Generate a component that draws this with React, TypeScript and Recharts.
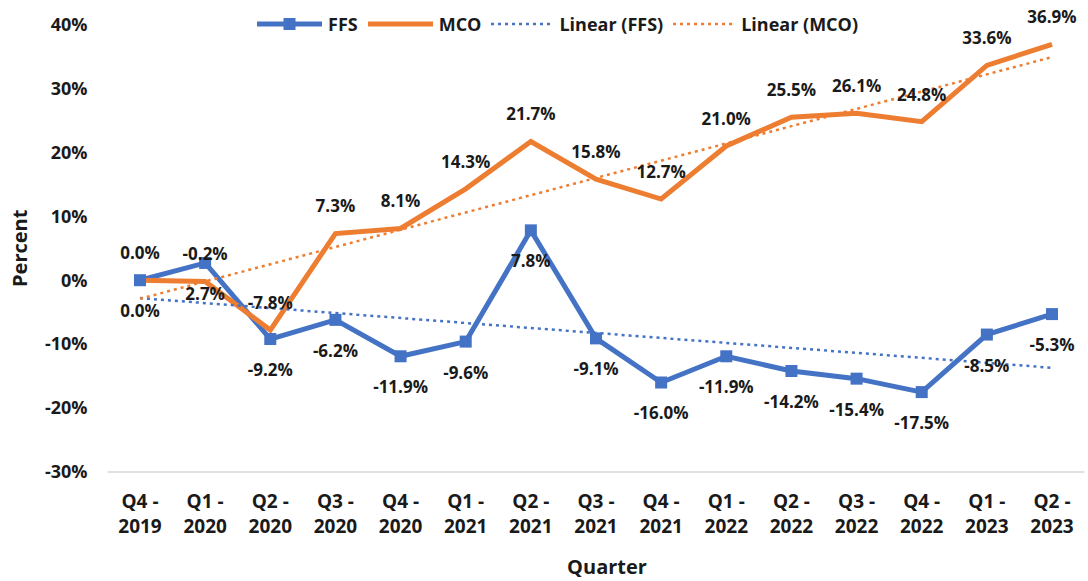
import React from "react";
import { LineChart, Line, XAxis, YAxis, LabelList, Label } from "recharts";

const quarters = [
  "Q4 - 2019", "Q1 - 2020", "Q2 - 2020", "Q3 - 2020", "Q4 - 2020",
  "Q1 - 2021", "Q2 - 2021", "Q3 - 2021", "Q4 - 2021", "Q1 - 2022",
  "Q2 - 2022", "Q3 - 2022", "Q4 - 2022", "Q1 - 2023", "Q2 - 2023",
];
const ffs = [0.0, 2.7, -9.2, -6.2, -11.9, -9.6, 7.8, -9.1, -16.0, -11.9, -14.2, -15.4, -17.5, -8.5, -5.3];
const mco = [0.0, -0.2, -7.8, 7.3, 8.1, 14.3, 21.7, 15.8, 12.7, 21.0, 25.5, 26.1, 24.8, 33.6, 36.9];
// Linear trend endpoints (first and last quarter)
const ffsTrendEnds = [-2.8, -13.7];
const mcoTrendEnds = [-2.9, 34.9];
const yTicks = [-30, -20, -10, 0, 10, 20, 30, 40];

const BLUE = "#4472C4";
const ORANGE = "#ED7D31";
const TEXT = "#1a1a1a";
const FONT = "'Open Sans', sans-serif";

const data = quarters.map((q, i) => ({
  quarter: q,
  FFS: ffs[i],
  MCO: mco[i],
  trendFFS: i === 0 ? ffsTrendEnds[0] : i === quarters.length - 1 ? ffsTrendEnds[1] : null,
  trendMCO: i === 0 ? mcoTrendEnds[0] : i === quarters.length - 1 ? mcoTrendEnds[1] : null,
}));

const fmt = (v: number) => `${v.toFixed(1)}%`;

const XTick = (props: any) => {
  const { x, y, payload } = props;
  const [a, b] = String(payload.value).split(" - ");
  return (
    <g>
      <text x={x} y={y + 29} dy="0.35em" textAnchor="middle" fontFamily={FONT} fontWeight={700} fontSize={19} fill={TEXT}>
        {a + " -"}
      </text>
      <text x={x} y={y + 54} dy="0.35em" textAnchor="middle" fontFamily={FONT} fontWeight={700} fontSize={19} fill={TEXT}>
        {b}
      </text>
    </g>
  );
};

const YTick = (props: any) => {
  const { x, y, payload } = props;
  return (
    <text x={x} y={y} dy="0.35em" textAnchor="end" fontFamily={FONT} fontWeight={700} fontSize={18} fill={TEXT}>
      {`${payload.value}%`}
    </text>
  );
};

const SquareDot = (props: any) => {
  const { cx, cy, index } = props;
  if (cx == null || cy == null) return <g key={index} />;
  return <rect key={index} x={cx - 6} y={cy - 6} width={12} height={12} fill={BLUE} />;
};

const makeLabel = (dyOff: number) => (props: any) => {
  const { x, y, value, index } = props;
  return (
    <text key={index} x={x} y={y + dyOff} dy="0.35em" textAnchor="middle" fontFamily={FONT} fontWeight={700} fontSize={17} fill={TEXT}>
      {fmt(Number(value))}
    </text>
  );
};

const LegendIcon = ({ kind }: { kind: string }) => {
  if (kind === "ffs")
    return (
      <svg width={65} height={14}>
        <line x1={0} y1={7} x2={65} y2={7} stroke={BLUE} strokeWidth={5} />
        <rect x={26.5} y={1} width={12} height={12} fill={BLUE} />
      </svg>
    );
  if (kind === "mco")
    return (
      <svg width={65} height={14}>
        <line x1={0} y1={7} x2={65} y2={7} stroke={ORANGE} strokeWidth={5} />
      </svg>
    );
  const c = kind === "tffs" ? BLUE : ORANGE;
  return (
    <svg width={62} height={14}>
      <line x1={0} y1={7} x2={62} y2={7} stroke={c} strokeWidth={2.5} strokeDasharray="3 4" />
    </svg>
  );
};

const legendItems = [
  { kind: "ffs", label: "FFS" },
  { kind: "mco", label: "MCO" },
  { kind: "tffs", label: "Linear (FFS)" },
  { kind: "tmco", label: "Linear (MCO)" },
];

export default function App() {
  return (
    <div style={{ position: "absolute", left: 0, top: 0, width: 1088, height: 581, background: "#fff" }}>
      <div
        style={{
          position: "absolute",
          left: 257,
          top: 12,
          display: "flex",
          alignItems: "center",
          fontFamily: FONT,
          fontWeight: 700,
          fontSize: 18,
          color: TEXT,
          whiteSpace: "nowrap",
          zIndex: 2,
        }}
      >
        {legendItems.map((it) => (
          <div key={it.kind} style={{ display: "flex", alignItems: "center", marginRight: 10 }}>
            <LegendIcon kind={it.kind} />
            <span style={{ marginLeft: 6 }}>{it.label}</span>
          </div>
        ))}
      </div>
      <LineChart width={1088} height={581} data={data} margin={{ top: 24.5, right: 3.5, bottom: 0, left: 0 }}>
        <XAxis
          dataKey="quarter"
          height={109}
          padding={{ left: 32.5, right: 32.5 }}
          axisLine={{ stroke: "#d9d9d9", strokeWidth: 1.5 }}
          tickLine={false}
          tickSize={0}
          tickMargin={0}
          interval={0}
          tick={<XTick />}
        >
          <Label
            content={(p: any) => {
              const vb = p.viewBox;
              return (
                <text x={vb.x + vb.width / 2 + 11} y={vb.y + 95} dy="0.35em" textAnchor="middle" fontFamily={FONT} fontWeight={700} fontSize={20} fill={TEXT}>
                  Quarter
                </text>
              );
            }}
          />
        </XAxis>
        <YAxis
          type="number"
          domain={[-30, 40]}
          ticks={yTicks}
          width={107.5}
          axisLine={false}
          tickLine={false}
          tickSize={0}
          tickMargin={20}
          tick={<YTick />}
        >
          <Label
            content={(p: any) => {
              const vb = p.viewBox;
              const cx = vb.x + 20;
              const cy = vb.y + vb.height / 2;
              return (
                <text x={cx} y={cy} dy="0.35em" textAnchor="middle" transform={`rotate(-90 ${cx} ${cy})`} fontFamily={FONT} fontWeight={700} fontSize={20} fill={TEXT}>
                  Percent
                </text>
              );
            }}
          />
        </YAxis>
        <Line
          dataKey="FFS"
          stroke={BLUE}
          strokeWidth={5}
          dot={<SquareDot />}
          activeDot={false}
          isAnimationActive={false}
        >
          <LabelList dataKey="FFS" content={makeLabel(31)} />
        </Line>
        <Line
          dataKey="MCO"
          stroke={ORANGE}
          strokeWidth={5}
          dot={false}
          activeDot={false}
          isAnimationActive={false}
        >
          <LabelList dataKey="MCO" content={makeLabel(-27)} />
        </Line>
        <Line
          dataKey="trendFFS"
          stroke={BLUE}
          strokeWidth={2.5}
          strokeDasharray="3 4"
          connectNulls
          dot={false}
          activeDot={false}
          isAnimationActive={false}
        />
        <Line
          dataKey="trendMCO"
          stroke={ORANGE}
          strokeWidth={2.5}
          strokeDasharray="3 4"
          connectNulls
          dot={false}
          activeDot={false}
          isAnimationActive={false}
        />
      </LineChart>
    </div>
  );
}
